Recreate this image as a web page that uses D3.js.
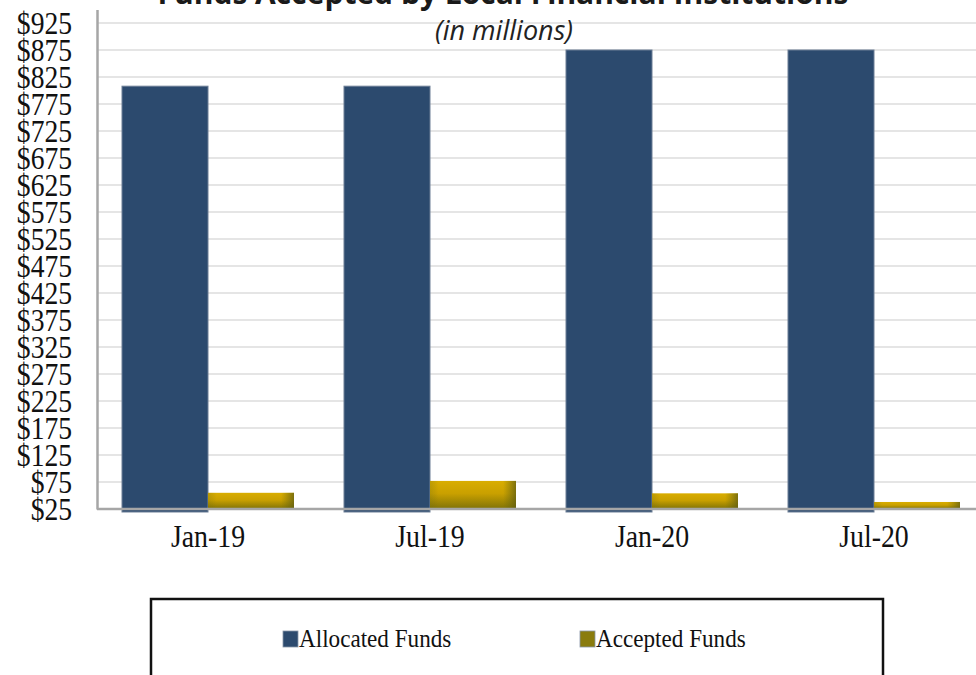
<!DOCTYPE html>
<html>
<head>
<meta charset="utf-8">
<script src="https://cdn.jsdelivr.net/npm/d3@7"></script>
<style>
  body { margin: 0; background: #fff; }
  svg { display: block; }
</style>
</head>
<body>
<svg id="chart" width="976" height="675"></svg>
<script>
const categories = ['Jan-19', 'Jul-19', 'Jan-20', 'Jul-20']
const seriesNames = ['Allocated Funds', 'Accepted Funds']
const allocatedFunds = [808, 808, 875, 875]
const acceptedFunds = [55, 77, 54, 38]
const yTicks = d3.range(25, 926, 50)

const width = 976
const height = 675
const margin = {
  'top': 9.5,
  'left': 97,
  'right': -9,
  'bottom': 166
}
const blue = '#2c4a6e'
const olive = '#8a7c0e'
const serif = '"Liberation Serif", "Times New Roman", serif'

let svg = d3.select('#chart')

// gradients for the shaded gold bars
let defs = svg.append('defs')
let vGrad = defs.append('linearGradient')
  .attr('id', 'goldV')
  .attr('x1', 0).attr('y1', 0).attr('x2', 0).attr('y2', 1)
vGrad.append('stop').attr('offset', '0%').attr('stop-color', '#d9ad00')
vGrad.append('stop').attr('offset', '45%').attr('stop-color', '#c9a000')
vGrad.append('stop').attr('offset', '100%').attr('stop-color', '#7f7206')
let hGrad = defs.append('linearGradient')
  .attr('id', 'goldH')
  .attr('x1', 0).attr('y1', 0).attr('x2', 1).attr('y2', 0)
hGrad.append('stop').attr('offset', '0%').attr('stop-color', '#6b6a10').attr('stop-opacity', 0.25)
hGrad.append('stop').attr('offset', '10%').attr('stop-color', '#6b6a10').attr('stop-opacity', 0)
hGrad.append('stop').attr('offset', '85%').attr('stop-color', '#6b6a10').attr('stop-opacity', 0)
hGrad.append('stop').attr('offset', '100%').attr('stop-color', '#5e5c12').attr('stop-opacity', 0.75)

let xScale = d3.scaleBand()
  .domain(categories)
  .range([margin.left, width - margin.right])
let xInner = d3.scaleBand()
  .domain(seriesNames)
  .range([25, xScale.bandwidth() - 25])
let yScale = d3.scaleLinear()
  .domain([25, 950])
  .range([height - margin.bottom, margin.top])

// gridlines
svg.append('g')
  .selectAll('line')
  .data(yTicks.slice(1))
  .enter()
  .append('line')
  .attr('x1', margin.left)
  .attr('x2', width)
  .attr('y1', d => yScale(d))
  .attr('y2', d => yScale(d))
  .style('stroke', '#dcdcdc')
  .style('stroke-width', 1.5)

// y axis, labels are a condensed serif like the original
let yAxis = svg.append('g')
  .attr('transform', `translate(${margin.left},0)`)
  .call(d3.axisLeft(yScale).tickValues(yTicks).tickSize(0).tickFormat(d => '$' + d))
yAxis.select('.domain').style('stroke', '#a6a6a6').style('stroke-width', 2.5)
yAxis.selectAll('text')
  .attr('x', 0)
  .attr('dy', '0.34em')
  .attr('transform', 'translate(-25,0) scale(0.89,1)')
  .style('font-family', serif)
  .style('font-size', '31px')
  .style('fill', '#111')

// bars
let groups = svg.append('g')
  .selectAll('g')
  .data(categories)
  .enter()
  .append('g')
  .attr('transform', d => `translate(${xScale(d)},0)`)

groups.append('rect')
  .attr('x', xInner('Allocated Funds'))
  .attr('y', (d, i) => yScale(allocatedFunds[i]))
  .attr('width', xInner.bandwidth())
  .attr('height', (d, i) => yScale(25) - yScale(allocatedFunds[i]) + 3)
  .style('fill', blue)
  .style('stroke', '#6d7f96')
  .style('stroke-width', 1)

groups.append('rect')
  .attr('x', xInner('Accepted Funds'))
  .attr('y', (d, i) => yScale(acceptedFunds[i]))
  .attr('width', xInner.bandwidth())
  .attr('height', (d, i) => yScale(25) - yScale(acceptedFunds[i]))
  .style('fill', 'url(#goldV)')
groups.append('rect')
  .attr('x', xInner('Accepted Funds'))
  .attr('y', (d, i) => yScale(acceptedFunds[i]))
  .attr('width', xInner.bandwidth())
  .attr('height', (d, i) => yScale(25) - yScale(acceptedFunds[i]))
  .style('fill', 'url(#goldH)')

// x axis baseline and labels
svg.append('line')
  .attr('x1', margin.left)
  .attr('x2', width)
  .attr('y1', yScale(25))
  .attr('y2', yScale(25))
  .style('stroke', '#a6a6a6')
  .style('stroke-width', 2.5)

svg.append('g')
  .selectAll('text')
  .data(categories)
  .enter()
  .append('text')
  .attr('transform', d => `translate(${xScale(d) + xScale.bandwidth() / 2},547) scale(0.87,1)`)
  .attr('text-anchor', 'middle')
  .style('font-family', serif)
  .style('font-size', '32px')
  .style('fill', '#111')
  .text(d => d)

// titles
svg.append('text')
  .attr('x', 503)
  .attr('y', 4)
  .attr('text-anchor', 'middle')
  .style('font-family', '"Open Sans", sans-serif')
  .style('font-weight', 'bold')
  .style('font-size', '30px')
  .style('fill', '#1a1a1a')
  .text('Funds Accepted by Local Financial Institutions')
svg.append('text')
  .attr('x', 504)
  .attr('y', 40)
  .attr('text-anchor', 'middle')
  .style('font-family', '"Open Sans", sans-serif')
  .style('font-style', 'italic')
  .style('font-size', '27px')
  .style('fill', '#222')
  .text('(in millions)')

// legend
svg.append('rect')
  .attr('x', 151)
  .attr('y', 599)
  .attr('width', 732)
  .attr('height', 100)
  .style('fill', 'none')
  .style('stroke', '#111')
  .style('stroke-width', 2.5)

let legendX = [283, 580]
let legendColors = [blue, olive]
let legend = svg.append('g')
  .selectAll('g')
  .data(seriesNames)
  .enter()
  .append('g')
  .attr('transform', (d, i) => `translate(${legendX[i]},631)`)
legend.append('rect')
  .attr('width', 15)
  .attr('height', 16)
  .style('fill', (d, i) => legendColors[i])
  .style('stroke', '#8896a8')
  .style('stroke-width', 0.8)
legend.append('text')
  .attr('transform', 'translate(16,16) scale(0.89,1)')
  .style('font-family', serif)
  .style('font-size', '26px')
  .style('fill', '#111')
  .text(d => d)
</script>
</body>
</html>
